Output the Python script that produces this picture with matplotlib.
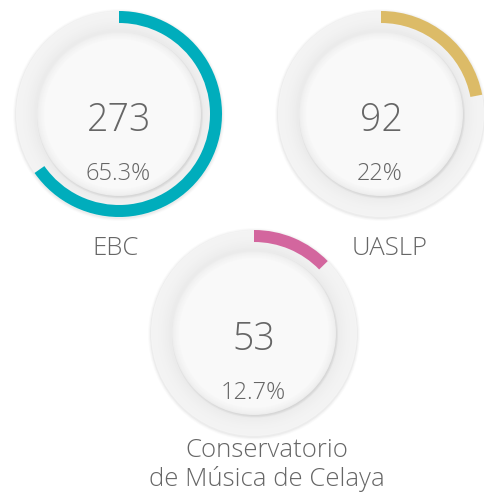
import numpy as np
import matplotlib
matplotlib.use("Agg")
from matplotlib import pyplot as plt
from matplotlib.patches import Wedge, Circle

# data
labels = ["EBC", "UASLP", "Conservatorio\nde Música de Celaya"]
counts = [273, 92, 53]
shares = [65.3, 22, 12.7]
share_text = ["65.3%", "22%", "12.7%"]
colors = ["#00adbc", "#dcbb67", "#d3669e"]

# layout in pixel units
centers = [(119, 114), (381, 114), (254, 333)]
label_pos = [(116, 248), (390, 248), (267, 465)]
R_OUT = 103
R_IN = 82
ARC_W = 12
text_col = "#666666"

plt.rcParams['font.family'] = ['Open Sans', 'DejaVu Sans']

fig = plt.figure(figsize=(4.85, 4.94), dpi=100)
ax = fig.add_axes([0, 0, 1, 1])
ax.set_xlim(0, 485)
ax.set_ylim(494, 0)
ax.set_aspect('equal')
ax.axis('off')

for (cx, cy), lab, n, pct, ptxt, col, (lx, ly) in zip(centers, labels, counts, shares,
                                                        share_text, colors, label_pos):
    # soft shadow outside the ring
    for k, a in enumerate([0.035, 0.025, 0.015]):
        ax.add_patch(Circle((cx, cy + 1), R_OUT + 1 + k, color='#000000', alpha=a, lw=0))
    # grey ring with a little gradient
    steps = 12
    for i in range(steps):
        r = R_OUT - i * (R_OUT - R_IN) / steps
        g = 0.955 - 0.04 * (i / steps) ** 2
        ax.add_patch(Circle((cx, cy), r, color=(g, g, g), lw=0))
    # shadow under the inner disc
    for k, a in enumerate([0.035, 0.03, 0.025]):
        ax.add_patch(Circle((cx + 1, cy + 1.5), R_IN + 1 - k, color='#000000', alpha=a, lw=0))
    # inner disc with rim gradient
    for i in range(8):
        r = R_IN - i * 1.0
        g = 0.93 + 0.045 * (i / 7) ** 0.7
        ax.add_patch(Circle((cx, cy), r, color=(g, g, g), lw=0))
    # coloured arc, clockwise from 12 o'clock
    ax.add_patch(Wedge((cx, cy), R_OUT, -90, -90 + 360 * pct / 100, width=ARC_W,
                       color=col, lw=0))

    ax.text(cx, cy + 7, str(n), ha='center', va='center', fontsize=27,
            color=text_col, fontweight='light')
    ax.text(cx - 1, cy + 60, ptxt, ha='center', va='center', fontsize=17,
            color=text_col, fontweight='light')
    ax.text(lx, ly, lab, ha='center', va='center', fontsize=18.5,
            color=text_col, fontweight='light', linespacing=1.15)

fig.savefig("out.png", dpi=100, facecolor='white')
